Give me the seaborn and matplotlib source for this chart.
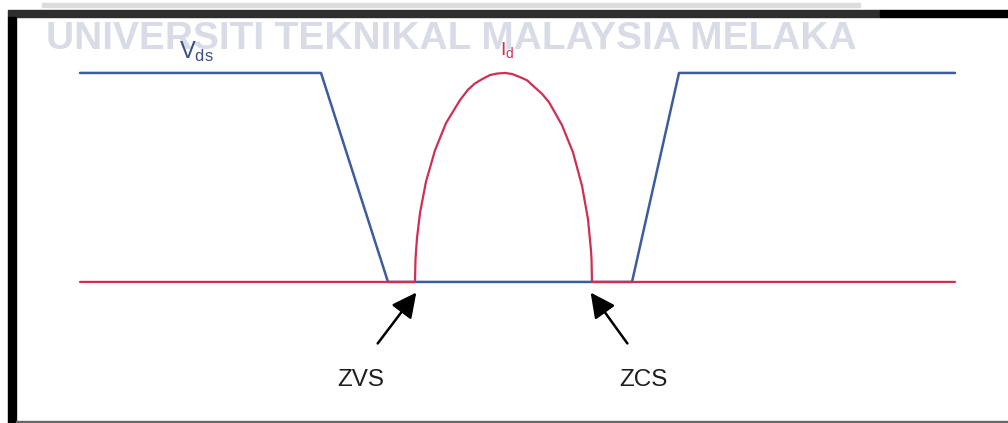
import numpy as np
import pandas as pd
import matplotlib
matplotlib.use("Agg")
import matplotlib.pyplot as plt
import seaborn as sns
from matplotlib.patches import Rectangle, FancyArrowPatch

sns.set_theme(style="white")
plt.rcParams['font.family'] = ['Liberation Sans', 'DejaVu Sans']
plt.rcParams['mathtext.fontset'] = 'custom'
plt.rcParams['mathtext.rm'] = 'Liberation Sans'

# ---- data (time in arbitrary units, amplitude normalised) ----
vds_t = [80, 321, 388, 632, 679, 955]
vds_v = [1.0, 1.0, 0.0, 0.0, 1.0, 1.0]

id_t = [80, 415, 415.5, 417, 420, 426, 435, 446, 460, 468, 475, 482, 490, 497,
        505, 512, 520, 527, 535, 542, 549, 562, 573, 582, 588, 591, 591.5,
        592, 955]
id_v = [0.0, 0.0, 0.11, 0.21, 0.33, 0.48, 0.63, 0.76, 0.87, 0.92, 0.95, 0.97,
        0.99, 0.997, 1.0, 0.995, 0.98, 0.965, 0.93, 0.90, 0.86, 0.75, 0.62,
        0.46, 0.30, 0.15, 0.11, 0.0, 0.0]

labels = ["ZVS", "ZCS"]
label_t = [415, 592]

watermark = "UNIVERSITI TEKNIKAL MALAYSIA MELAKA"

blue = "#3d5c9c"
red = "#cf2f52"

fig = plt.figure(figsize=(10.08, 4.23), dpi=100)
ax = fig.add_axes([0, 0, 1, 1])

# watermark
ax.text(451, 1.16, watermark, ha="center", va="center", fontsize=28,
        fontweight="bold", color="#d9dce7", zorder=0)

vds = pd.DataFrame({"t": vds_t, "v": vds_v})
idd = pd.DataFrame({"t": id_t, "v": id_v})
sns.lineplot(data=vds, x="t", y="v", sort=False, color=blue, lw=1.8, ax=ax, zorder=2)
sns.lineplot(data=idd, x="t", y="v", sort=False, color=red, lw=1.6, ax=ax, zorder=3)
ax.set_xlim(0, 1008)
ax.set_ylim(-0.675, 1.349)
ax.set_axis_off()

ax.text(179, 1.10, r"$\mathregular{V_{ds}}$", fontsize=17, color="#3b4f86",
        ha="left", va="center")
ax.text(500, 1.11, r"$\mathregular{I_{d}}$", fontsize=14, color=red,
        ha="left", va="center")

# arrows and labels
for lab, t, dx in zip(labels, label_t, [-39, 37]):
    arr = FancyArrowPatch((t + dx, -0.305), (t - 3 * np.sign(dx), -0.04),
                          arrowstyle="-|>,head_length=10,head_width=5",
                          color="black", lw=1.8, mutation_scale=1.5, zorder=4)
    ax.add_patch(arr)
    ax.text(t + dx * 1.4, -0.47, lab, fontsize=17.5, color="#1e1e1e",
            ha="center", va="center")

# frame decorations
fig.patches.append(Rectangle((42 / 1008, 1 - 7 / 423), 818 / 1008, 4 / 423,
                             transform=fig.transFigure, color="#dcdcdc", zorder=0))
fig.patches.append(Rectangle((8 / 1008, 1 - 17 / 423), 872 / 1008, 7 / 423,
                             transform=fig.transFigure, color="#2e2e2e", zorder=5))
fig.patches.append(Rectangle((880 / 1008, 1 - 17 / 423), 128 / 1008, 7 / 423,
                             transform=fig.transFigure, color="#000000", zorder=5))
fig.patches.append(Rectangle((8 / 1008, 0), 8 / 1008, 1 - 17 / 423,
                             transform=fig.transFigure, color="#000000", zorder=5))
fig.patches.append(Rectangle((16 / 1008, 0), 992 / 1008, 2 / 423,
                             transform=fig.transFigure, color="#666666", zorder=5))

fig.savefig("out.png", dpi=100)
